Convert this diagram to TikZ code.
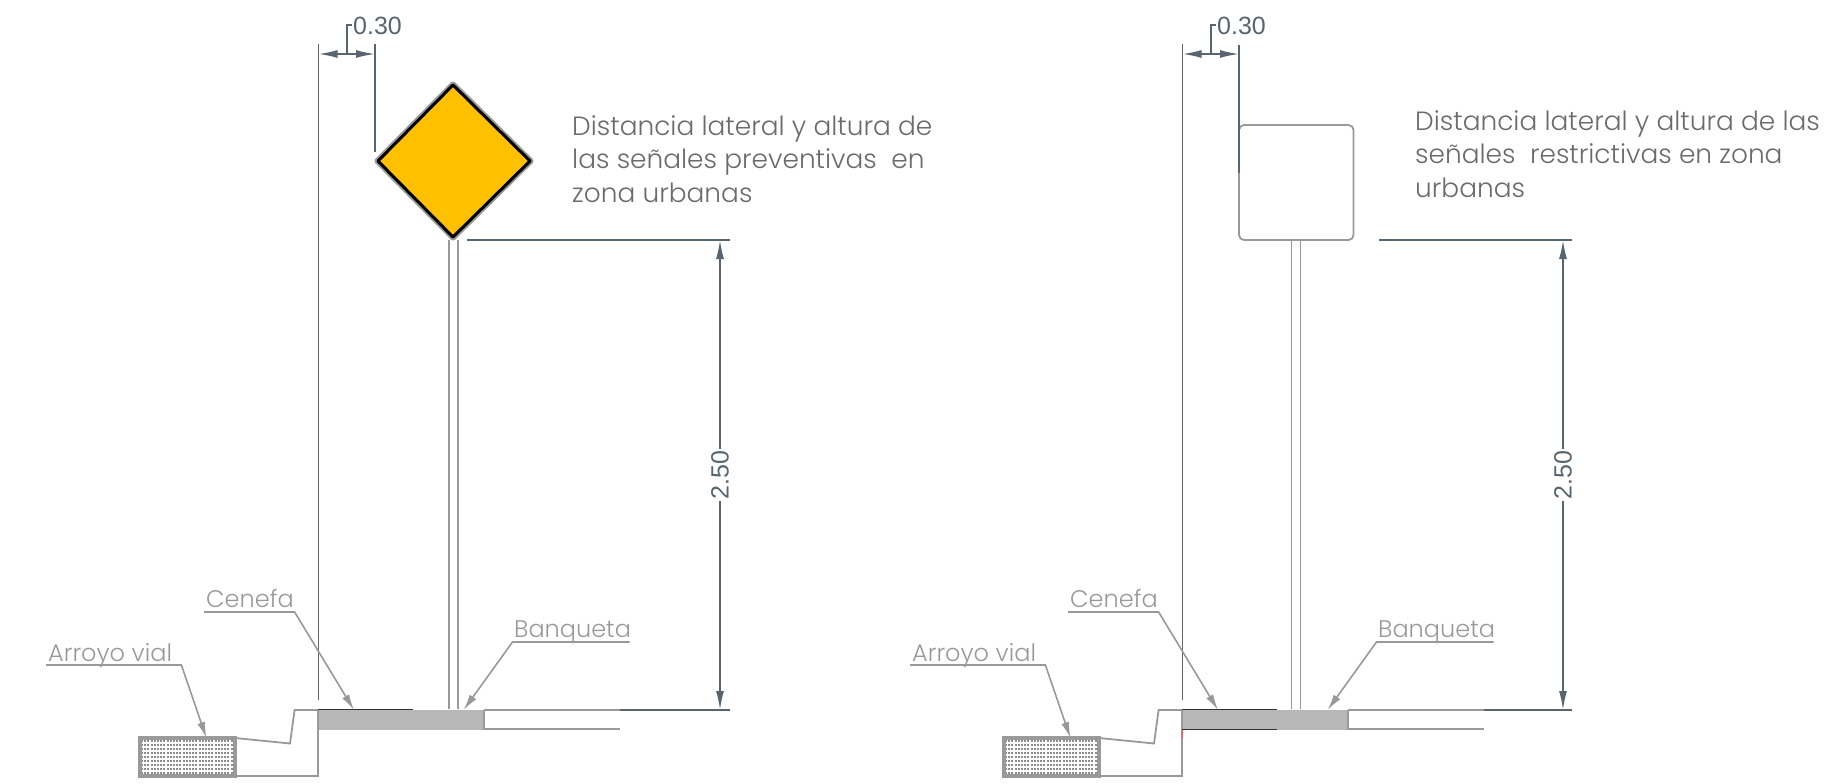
\documentclass[tikz,border=0pt]{standalone}
\usepackage{fontspec}
\setmainfont{Poppins Light}
\newfontfamily\dimfont{Liberation Sans}
\usetikzlibrary{arrows.meta,patterns}
\definecolor{dimblue}{HTML}{56656F}
\definecolor{lightgrey}{HTML}{999999}
\definecolor{bandgrey}{HTML}{B7B7B7}
\definecolor{signyellow}{HTML}{FFC000}
\tikzset{
	dimline/.style={draw=dimblue, line width=1.7pt},
	dimarrow/.style={dimline, {Latex[length=19pt,width=8pt]}-{Latex[length=19pt,width=8pt]}},
	dimtext/.style={font=\dimfont\fontsize{25}{25}\selectfont, text=dimblue, inner sep=1pt},
	ground/.style={draw=lightgrey, line width=1.8pt},
	leader/.style={draw=lightgrey, line width=1.6pt, -{Latex[length=16pt,width=8pt]}},
	tag/.style={font=\fontsize{24}{24}\selectfont, text=lightgrey, inner sep=0pt, anchor=base west},
	caption/.style={font=\fontsize{26.4}{33.5}\selectfont, text=black!58, inner sep=0pt, anchor=north west, align=left}
}

\begin{document}
\begin{tikzpicture}[x=1pt,y=-1pt]
	\useasboundingbox (0,0) rectangle (1833,784);
	% left sign
	\draw [line width=4pt, draw=lightgrey, line join=round, rounded corners=1pt] (453,83) -- (532,161) -- (453,239) -- (376,161) -- cycle;
	\draw [line width=3pt, fill=signyellow, line join=round] (453,85) -- (530,161) -- (453,237) -- (378,161) -- cycle;
	\draw [ground] (449,240) -- (449,709);
	\draw [ground] (458,240) -- (458,709);
	\coordinate (leftA) at (375,44);
	\coordinate (leftB) at (375,152);
	\draw [dimline] (leftA) -- (leftB);
	\coordinate (topL) at (467,240);
	\coordinate (topR) at (730,240);
	\draw [dimline] (topL) -- (topR);
	\coordinate (baseL) at (620,710);
	\coordinate (baseR) at (730,710);
	\draw [dimline] (baseL) -- (baseR);
	\node [caption] (captionA) at (572,115) {Distancia lateral y altura de\\las señales preventivas\ \ en\\zona urbanas};
	% right sign
	\draw [ground] (1239,125) [rounded corners=5pt] -- (1353.5,125) -- (1353.5,240) -- (1239,240) -- cycle;
	\draw [ground] (1291.5,240) -- (1291.5,709);
	\draw [ground] (1300.5,240) -- (1300.5,709);
	\coordinate (rightA) at (1239,45);
	\coordinate (rightB) at (1239,173);
	\draw [dimline] (rightA) -- (rightB);
	\coordinate (topC) at (1379,240);
	\coordinate (topD) at (1572,240);
	\draw [dimline] (topC) -- (topD);
	\coordinate (baseC) at (1356,710);
	\coordinate (baseD) at (1572,710);
	\draw [dimline] (baseC) -- (baseD);
	\node [caption] (captionB) at (1415,110) {Distancia lateral y altura de las\\señales\ \ restrictivas en zona\\urbanas};
	% the same kerb twice
	\foreach \dx/\dw/\dy in {0/375/720, 864/1239/1563} {
		\begin{scope}[xshift=\dx pt]
			\fill [bandgrey] (318,710) rectangle (484,729.5);
			\draw [black!80, line width=1.2pt] (318,709.7) -- (413,709.7);
			\draw [ground] (484,710) -- (484,729.5);
			\draw [ground] (484,710) -- (620,710);
			\draw [ground] (484,729) -- (620,729);
			\fill [white] (140,738) rectangle (235,776);
			\foreach \ry in {741,745,...,773} {
				\draw [black!45, line width=1.8pt, dash pattern=on 2pt off 1.2pt] (141,\ry) -- (234,\ry);
			}
			\draw [lightgrey, line width=3.5pt] (140,738) rectangle (235,776);
			\draw [ground] (235,738) -- (290,743.5) -- (294.6,710) -- (318,710);
			\draw [ground] (318,710) -- (318,776) -- (235,776);
			\coordinate (dimA) at (318.5,44);
			\coordinate (dimB) at (318.5,700);
			\draw [dimline] (dimA) -- (dimB);
			\coordinate (arrowA) at (318.5,54);
			\coordinate (arrowB) at (\dw-\dx,54);
			\draw [dimarrow] (arrowA) -- (arrowB);
			\coordinate (bendA) at (347,54);
			\coordinate (bendB) at (347,25);
			\node [dimtext, anchor=west] (widthtext) at (352,26) {0.30};
			\draw [dimline] (bendA) -- (bendB) -- (widthtext.west |- bendB);
			\coordinate (heightA) at (\dy-\dx,240);
			\coordinate (heightB) at (\dy-\dx,710);
			\node [dimtext, rotate=90] (heighttext) at (\dy-\dx,475) {2.50};
			\draw [dimline, {Latex[length=19pt,width=8pt]}-] (heightA) -- (heighttext);
			\draw [dimline, -{Latex[length=19pt,width=8pt]}] (heighttext) -- (heightB);
			\node [tag] (cenefa) at (206,607) {Cenefa};
			\coordinate (cenefaA) at (204,612);
			\coordinate (cenefaB) at (294.6,612);
			\coordinate (cenefaC) at (354,710);
			\draw [leader] (cenefaA) -- (cenefaB) -- (cenefaC);
			\node [tag] (banqueta) at (514,637) {Banqueta};
			\coordinate (banquetaA) at (629.6,642);
			\coordinate (banquetaB) at (512.5,642);
			\coordinate (banquetaC) at (463.6,710);
			\draw [leader] (banquetaA) -- (banquetaB) -- (banquetaC);
			\node [tag] (arroyo) at (48,661) {Arroyo vial};
			\coordinate (arroyoA) at (46,665);
			\coordinate (arroyoB) at (181.4,665);
			\coordinate (arroyoC) at (206.4,738);
			\draw [leader] (arroyoA) -- (arroyoB) -- (arroyoC);
		\end{scope}
	}
	\draw [red!70, line width=0.8pt] (1182,729) -- (1182,738);
	\draw [black!80, line width=1.2pt] (1182,729.5) -- (1277,729.5);
\end{tikzpicture}
\end{document}
